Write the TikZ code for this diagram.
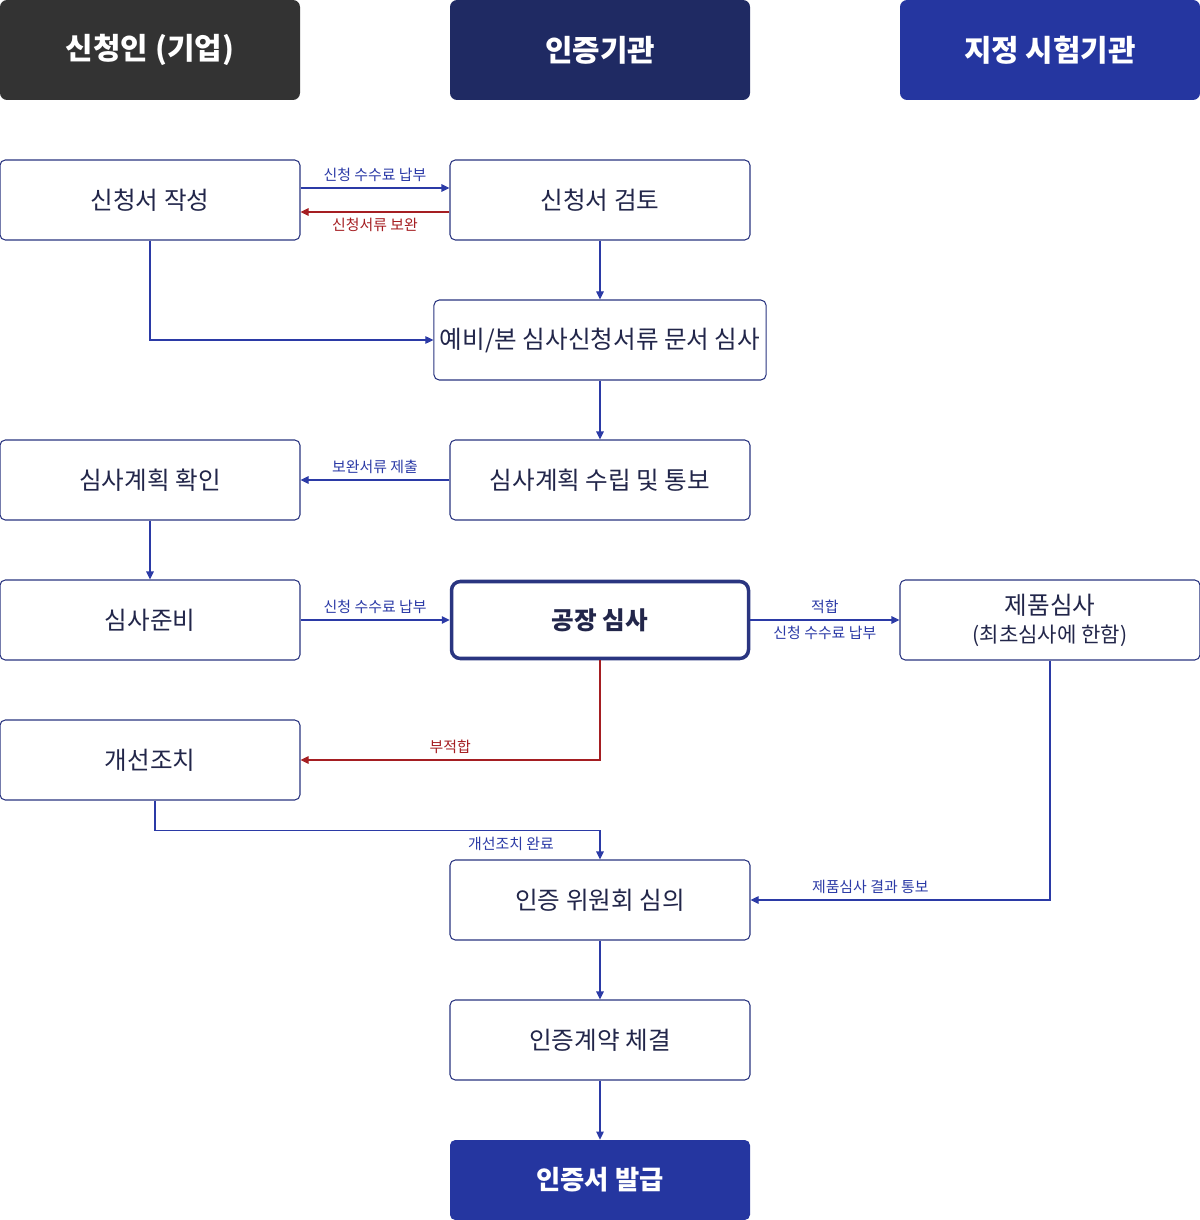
\documentclass[tikz,border=0pt]{standalone}
\usepackage{fontspec}
\setmainfont{Noto Sans CJK KR}
\usetikzlibrary{arrows.meta, calc}
\definecolor{hdgray}{HTML}{333333}
\definecolor{hdnavy}{HTML}{1F2A63}
\definecolor{hdblue}{HTML}{2536A0}
\definecolor{boxline}{HTML}{2A3580}
\definecolor{txt}{HTML}{22264A}
\definecolor{flow}{HTML}{2B3AA6}
\definecolor{back}{HTML}{A51E22}
\tikzset{
  header/.style={rectangle, rounded corners=4pt, minimum width=6cm, minimum height=2cm, text=white, font=\bfseries\fontsize{17}{20}\selectfont},
  procbox/.style={rectangle, rounded corners=3pt, draw=boxline, line width=0.6pt, fill=white, minimum width=6cm, minimum height=1.6cm, text=txt, font=\fontsize{14}{17}\selectfont, align=center},
  arrow/.style={draw=flow, line width=0.6pt, -{Triangle[length=1.6mm,width=1.5mm]}},
  redarrow/.style={arrow, draw=back},
  lbl/.style={font=\fontsize{8.5}{10}\selectfont, text=flow},
  redlbl/.style={lbl, text=back}
}
\begin{document}
\begin{tikzpicture}
\useasboundingbox (0,0) rectangle (24,-24.4);

% headers
\node[header, fill=hdgray] (h1) at (3,-1) {신청인 (기업)};
\node[header, fill=hdnavy] (h2) at (12,-1) {인증기관};
\node[header, fill=hdblue] (h3) at (21,-1) {지정 시험기관};

% process boxes
\node[procbox] (write) at (3,-4) {신청서 작성};
\node[procbox] (review) at (12,-4) {신청서 검토};
\node[procbox] (docs) at (12,-6.8) {예비/본 심사신청서류 문서 심사};
\node[procbox] (check) at (3,-9.6) {심사계획 확인};
\node[procbox] (plan) at (12,-9.6) {심사계획 수립 및 통보};
\node[procbox] (prep) at (3,-12.4) {심사준비};
\node[procbox, line width=2pt, rounded corners=5pt, font=\bfseries\fontsize{14}{17}\selectfont, minimum width=5.94cm, minimum height=1.54cm] (factory) at (12,-12.4) {공장 심사};
\node[procbox] (product) at (21,-12.4) {제품심사\\[-1pt]{\fontsize{12}{14}\selectfont (최초심사에 한함)}};
\node[procbox] (fix) at (3,-15.2) {개선조치};
\node[procbox] (board) at (12,-18) {인증 위원회 심의};
\node[procbox] (contract) at (12,-20.8) {인증계약 체결};
\node[header, fill=hdblue, minimum height=1.6cm, rounded corners=3pt] (issue) at (12,-23.6) {\fontsize{15}{18}\selectfont 인증서 발급};

% connectors
\draw[arrow] ([yshift=0.24cm]write.east) -- node[lbl, above] {신청 수수료 납부} ([yshift=0.24cm]review.west);
\draw[redarrow] ([yshift=-0.24cm]review.west) -- node[redlbl, below] {신청서류 보완} ([yshift=-0.24cm]write.east);
\draw[arrow] (review) -- (docs);
\draw[arrow] (write.south) |- (docs.west);
\draw[arrow] (docs) -- (plan);
\draw[arrow] (plan) -- node[lbl, above] {보완서류 제출} (check);
\draw[arrow] (check) -- (prep);
\draw[arrow] (prep) -- node[lbl, above] {신청 수수료 납부} (factory);
\draw[arrow] (factory) -- node[lbl, above] {적합} node[lbl, below] {신청 수수료 납부} (product);
\draw[redarrow] (factory.south) |- node[redlbl, above, pos=0.75] {부적합} (fix.east);
\draw[arrow] ([xshift=0.1cm]fix.south) -- ++(0,-0.6) -| node[lbl, below, pos=0.4] {개선조치 완료} (board.north);
\draw[arrow] (product.south) |- node[lbl, above, pos=0.8] {제품심사 결과 통보} (board.east);
\draw[arrow] (board) -- (contract);
\draw[arrow] (contract) -- (issue);
\end{tikzpicture}
\end{document}
